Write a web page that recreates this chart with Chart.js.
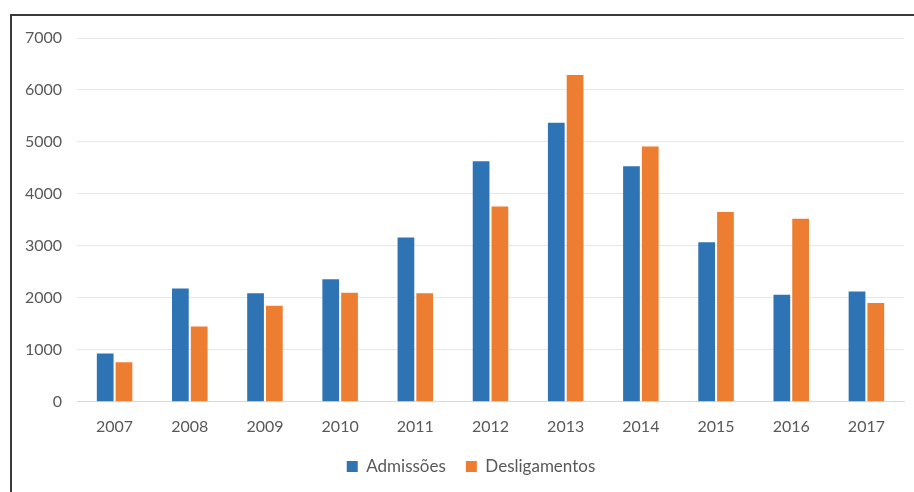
<!DOCTYPE html>
<html>
<head>
<meta charset="utf-8">
<script src="https://cdn.jsdelivr.net/npm/chart.js@4"></script>
<style>
    html, body { margin: 0; padding: 0; background: #fff; }
    #frame {
        position: absolute;
        left: 10px;
        top: 14px;
        width: 902px;
        height: 476px;
        border-top: 2px solid #3a3a3a;
        border-left: 2px solid #3a3a3a;
    }
</style>
</head>
<body>
<div id="frame"><canvas id="chart"></canvas></div>
<script>
const years = ['2007', '2008', '2009', '2010', '2011', '2012', '2013', '2014', '2015', '2016', '2017'];
const admissoes = [930, 2180, 2090, 2360, 3160, 4630, 5370, 4530, 3070, 2060, 2120];
const desligamentos = [760, 1450, 1850, 2100, 2090, 3760, 6290, 4910, 3650, 3520, 1900];

const textColor = '#595959';
const fontFamily = 'Lato, "Open Sans", sans-serif';

// keep the wide gap between legend items but pull the row up under the axis
const tightLegend = {
    id: 'tightLegend',
    beforeLayout(chart) {
        const legend = chart.legend;
        if (!legend || legend._tight) return;
        const fit = legend.fit;
        const draw = legend.draw;
        legend.fit = function () {
            fit.call(this);
            this.height -= 14;
        };
        legend.draw = function () {
            const box = { top: this.top, height: this.height, left: this.left, right: this.right };
            this.top -= 13;
            this.height += 13;
            this.left += 13;
            this.right += 13;
            draw.call(this);
            Object.assign(this, box);
        };
        legend._tight = true;
    }
};

const ctx = document.getElementById('chart').getContext('2d');
const chart = new Chart(ctx, {
    type: 'bar',
    data: {
        labels: years,
        datasets: [
            {
                label: 'Admissões',
                data: admissoes,
                backgroundColor: '#2E74B5',
                categoryPercentage: 0.5,
                barPercentage: 0.89
            },
            {
                label: 'Desligamentos',
                data: desligamentos,
                backgroundColor: '#ED7D31',
                categoryPercentage: 0.5,
                barPercentage: 0.89
            }
        ]
    },
    plugins: [tightLegend],
    options: {
        responsive: true,
        maintainAspectRatio: false,
        animation: false,
        layout: {
            padding: { top: 22, right: 10, bottom: 8, left: 0 }
        },
        plugins: {
            legend: {
                position: 'bottom',
                labels: {
                    boxWidth: 11,
                    boxHeight: 11,
                    padding: 20,
                    color: textColor,
                    font: { family: fontFamily, size: 17 }
                }
            },
            tooltip: { enabled: false }
        },
        scales: {
            x: {
                grid: { display: false, drawTicks: false },
                border: { color: '#d9d9d9', width: 1 },
                ticks: {
                    color: textColor,
                    padding: 15,
                    font: { family: fontFamily, size: 16 }
                }
            },
            y: {
                min: 0,
                max: 7000,
                afterFit: (scale) => {
                    scale.width = 65;
                    scale.paddingTop = 0;
                },
                grid: { color: '#e6e6e6', drawTicks: false },
                border: { display: false },
                ticks: {
                    stepSize: 1000,
                    color: textColor,
                    padding: 15,
                    font: { family: fontFamily, size: 16 },
                    callback: (value) => String(value)
                }
            }
        }
    }
});
</script>
</body>
</html>
